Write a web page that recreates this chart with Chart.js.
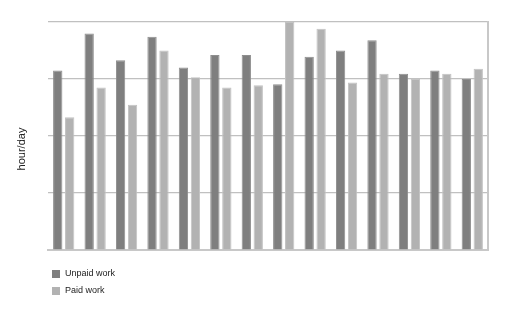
<!DOCTYPE html>
<html lang="en">
<head>
    <meta charset="UTF-8">
    <title>Unpaid and paid work</title>
    <style>
        body {
            margin: 0;
            padding: 0;
            background: #ffffff;
            font-family: "Liberation Sans", Arial, sans-serif;
        }

        .chart-box {
            position: relative;
            width: 522px;
            height: 309px;
        }
    </style>
</head>

<body>
    <div class="chart-box">
        <canvas id="workChart"></canvas>
    </div>

    <script src="https://cdn.jsdelivr.net/npm/chart.js"></script>

    <script>
        // 14 groups, no category labels are shown in the picture
        const categories = ['1', '2', '3', '4', '5', '6', '7', '8', '9', '10', '11', '12', '13', '14'];
        const unpaidWork = [3.15, 3.80, 3.33, 3.74, 3.20, 3.42, 3.42, 2.91, 3.39, 3.50, 3.68, 3.09, 3.15, 3.00];
        const paidWork = [2.33, 2.85, 2.55, 3.50, 3.03, 2.85, 2.89, 4.00, 3.88, 2.94, 3.09, 3.01, 3.09, 3.18];
        const seriesNames = ['Unpaid work', 'Paid work'];
        const yTitle = 'hour/day';

        // axis title and vertical legend drawn by hand
        const extrasPlugin = {
            id: 'extras',
            afterDraw(chart) {
                const ctx = chart.ctx;
                ctx.save();

                ctx.fillStyle = '#222';
                ctx.font = '11px "Liberation Sans", Arial, sans-serif';
                ctx.textAlign = 'center';
                ctx.textBaseline = 'middle';
                ctx.translate(22, 149);
                ctx.rotate(-Math.PI / 2);
                ctx.fillText(yTitle, 0, 0);
                ctx.setTransform(1, 0, 0, 1, 0, 0);

                ctx.font = '9px "Liberation Sans", Arial, sans-serif';
                ctx.textAlign = 'left';
                chart.data.datasets.forEach((ds, i) => {
                    const y = 270 + i * 17;
                    ctx.fillStyle = ds.backgroundColor;
                    ctx.fillRect(52, y, 8, 8);
                    ctx.fillStyle = '#222';
                    ctx.fillText(ds.label, 65, y + 4);
                });
                ctx.restore();
            }
        };

        const ctx = document.getElementById('workChart').getContext('2d');
        new Chart(ctx, {
            type: 'bar',
            data: {
                labels: categories,
                datasets: [
                    {
                        label: seriesNames[0],
                        data: unpaidWork,
                        backgroundColor: '#7f7f7f',
                        borderColor: '#8e8e8e',
                        borderWidth: 1
                    },
                    {
                        label: seriesNames[1],
                        data: paidWork,
                        backgroundColor: '#b2b2b2',
                        borderColor: '#c2c2c2',
                        borderWidth: 1
                    }
                ]
            },
            options: {
                responsive: true,
                maintainAspectRatio: false,
                animation: false,
                categoryPercentage: 0.76,
                barPercentage: 0.78,
                layout: {
                    padding: { left: 48, right: 34, top: 22, bottom: 59 }
                },
                plugins: {
                    legend: { display: false },
                    tooltip: { enabled: false }
                },
                scales: {
                    x: {
                        grid: { display: false },
                        ticks: { display: false },
                        border: { display: true, color: '#c8c8c8', width: 2 },
                        afterFit: s => { s.height = 0; }
                    },
                    y: {
                        position: 'right',
                        min: 0,
                        max: 4,
                        z: 1,
                        ticks: { display: false, stepSize: 1 },
                        grid: { color: '#c0c0c0', drawTicks: false, lineWidth: 1.2 },
                        border: { display: true, color: '#c8c8c8', width: 2 },
                        afterFit: s => { s.width = 0; }
                    }
                }
            },
            plugins: [extrasPlugin]
        });
    </script>
</body>
</html>
